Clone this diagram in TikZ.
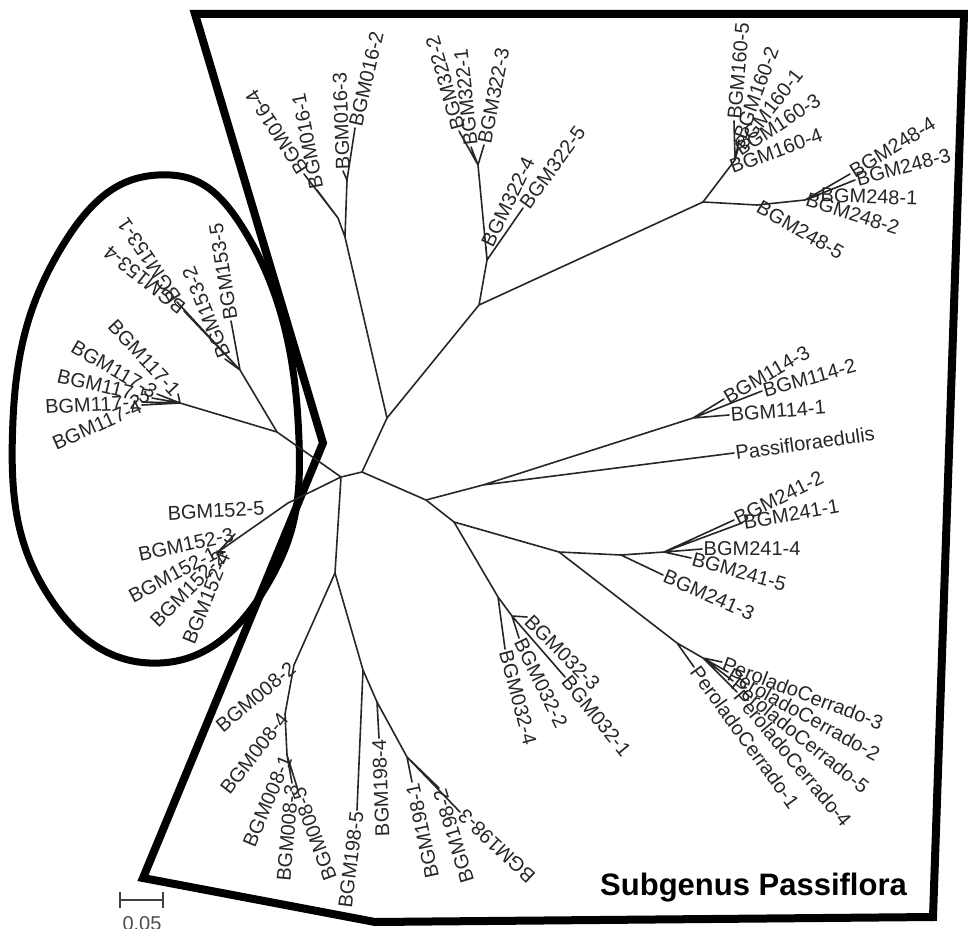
\documentclass[tikz,border=0pt]{standalone}
\usepackage{fontspec}
\setmainfont{Liberation Sans}
\tikzset{br/.style={line width=1.6pt,black!85,line cap=round,line join=round},
  frame/.style={line width=8pt,line join=miter},
  lbl/.style={font=\fontsize{20}{20}\selectfont,text=black!85,inner sep=1.5pt}}
\newcommand\leafR[4]{\coordinate (t#1) at (#2); \node[lbl,anchor=west,rotate=#3] (l#1) at (t#1) {#4};}
\newcommand\leafL[4]{\coordinate (t#1) at (#2); \node[lbl,anchor=east,rotate=#3] (l#1) at (t#1) {#4};}
\begin{document}
\begin{tikzpicture}[x=1pt,y=-1pt]
\useasboundingbox (0,0) rectangle (968,928);
\draw[frame] (195,14)--(964,14)--(933,917)--(375,922)--(143,878)--(323,443)--cycle;
\draw[line width=7pt] plot[smooth cycle,tension=.75] coordinates {(158,175) (250,240) (298,420) (270,580) (160,663) (45,590) (13,420) (60,250)};
\coordinate (A) at (362,472); \coordinate (B) at (341,477); \coordinate (C) at (277,432); \coordinate (C2) at (180,403);
\coordinate (D) at (387,418); \coordinate (E) at (479,305); \coordinate (F) at (426,500); \coordinate (G) at (454,522);
\coordinate (H) at (483,485); \coordinate (I) at (559,552); \coordinate (J) at (621,555); \coordinate (K) at (664,552);
\coordinate (L) at (498,597); \coordinate (L2) at (512,616); \coordinate (M1) at (693,418); \coordinate (N) at (677,643);
\coordinate (O) at (703,658); \coordinate (P) at (335,573); \coordinate (Q) at (363,670); \coordinate (R) at (377,702);
\coordinate (S) at (407,757); \coordinate (T) at (345,237); \coordinate (T2) at (347,180); \coordinate (T3) at (338,218);
\coordinate (U) at (487,260); \coordinate (V) at (478,165); \coordinate (W) at (703,202); \coordinate (X) at (735,160);
\coordinate (Y) at (805,200); \coordinate (K152) at (288,503); \coordinate (Q1) at (218,552); \coordinate (K153) at (240,370);
\leafR{0162}{355,128}{77}{BGM016-2} \leafR{0163}{343,171}{92}{BGM016-3}
\leafR{0161}{317,190}{101}{BGM016-1} \leafR{0164}{304,174}{123}{BGM016-4}
\leafR{3222}{459,131}{106}{BGM322-2} \leafR{3221}{471,147}{96}{BGM322-1} \leafR{3223}{484,145}{79}{BGM322-3}
\leafR{3224}{486,247}{64}{BGM322-4} \leafR{3225}{523,208}{54}{BGM322-5}
\leafR{1605}{734,121}{85}{BGM160-5} \leafR{1602}{739,140}{70}{BGM160-2} \leafR{1601}{738,149}{52}{BGM160-1}
\leafR{1603}{736,152}{33}{BGM160-3} \leafR{1604}{729,168}{20}{BGM160-4}
\leafR{2485}{757,205}{-30}{BGM248-5} \leafR{2482}{805,198}{-18}{BGM248-2} \leafR{2481}{819,195}{-2}{BGM248-1}
\leafR{2483}{855,180}{15}{BGM248-3} \leafR{2484}{850,174}{32}{BGM248-4}
\leafR{1143}{724,399}{30}{BGM114-3} \leafR{1142}{762,391}{15.5}{BGM114-2} \leafR{1141}{729,415}{4.7}{BGM114-1}
\leafR{Ped}{734,453}{7.9}{Passifloraedulis}
\leafR{2412}{734,520}{26.6}{BGM241-2} \leafR{2411}{742,523}{10}{BGM241-1} \leafR{2414}{702,549}{0}{BGM241-4}
\leafR{2415}{691,558}{-15.7}{BGM241-5} \leafR{2413}{663,575}{-23.5}{BGM241-3}
\leafR{PC3}{722,662}{-21}{PeroladoCerrado-3} \leafR{PC2}{728,672}{-29}{PeroladoCerrado-2}
\leafR{PC5}{733,681}{-39}{PeroladoCerrado-5} \leafR{PC4}{737,692}{-50}{PeroladoCerrado-4}
\leafR{PC1}{694,667}{-54}{PeroladoCerrado-1}
\leafR{0323}{527,617}{-45}{BGM032-3} \leafR{0322}{519,638}{-64}{BGM032-2}
\leafR{0324}{505,649}{-75}{BGM032-4} \leafR{0321}{565,677}{-51}{BGM032-1}
\leafL{1985}{357,810}{83}{BGM198-5} \leafL{1984}{379,738}{92}{BGM198-4} \leafL{1981}{412,782}{102}{BGM198-1}
\leafL{1982}{439,788}{107}{BGM198-2} \leafL{1983}{460,812}{137}{BGM198-3}
\leafL{0082}{294,665}{40}{BGM008-2} \leafL{0084}{285,714}{52}{BGM008-4} \leafL{0081}{287,755}{67}{BGM008-1}
\leafL{0083}{292,783}{85}{BGM008-3} \leafL{0085}{297,787}{110}{BGM008-5}
\leafL{1525}{266,508}{3}{BGM152-5} \leafL{1523}{235,534}{12}{BGM152-3} \leafL{1521}{217,551}{28}{BGM152-1}
\leafL{1522}{223,554}{45}{BGM152-2} \leafL{1524}{225,552}{68}{BGM152-4}
\leafL{1171}{178,394}{-47}{BGM117-1} \leafL{1173}{157,394}{-30}{BGM117-3} \leafL{1175}{152,398}{-13.5}{BGM117-5}
\leafL{1172}{142,402}{3}{BGM117-2} \leafL{1174}{142,405}{24}{BGM117-4}
\leafR{1535}{231,321}{99}{BGM153-5} \leafR{1532}{225,359}{112}{BGM153-2}
\leafR{1534}{184,311}{142}{BGM153-4} \leafR{1531}{177,302}{124}{BGM153-1}
\draw[br] (B)--(A) (A)--(D) (A)--(F) (D)--(T) (D)--(E) (E)--(U) (E)--(W);
\draw[br] (T)--(T2)--(t0162) (T2)--(t0163) (T)--(T3)--(t0161) (T3)--(t0164);
\draw[br] (U)--(t3225) (U)--(t3224) (U)--(V)--(t3223) (V)--(t3221) (V)--(t3222);
\draw[br] (W)--(X)--(t1605) (X)--(t1602) (X)--(t1601) (X)--(t1603);
\draw[br] (W)--(t2485)--(Y)--(t2481) (Y)--(t2483) (Y)--(t2484);
\draw[br] (F)--(H)--(M1)--(t1141) (M1)--(t1142) (M1)--(t1143) (H)--(tPed);
\draw[br] (F)--(G)--(I)--(J)--(K)--(t2412) (K)--(t2411) (K)--(t2414) (K)--(t2415) (J)--(t2413);
\draw[br] (I)--(N)--(tPC1) (N)--(O)--(tPC3) (O)--(tPC2) (O)--(tPC5) (O)--(tPC4);
\draw[br] (G)--(L)--(t0324) (L)--(L2)--(t0322) (L2)--(t0323) (L2)--(t0321);
\draw[br] (B)--(P)--(Q)--(t1985) (Q)--(R)--(t1984) (R)--(S)--(t1981) (S)--(t1982) (S)--(t1983);
\draw[br] (P)--(t0082)--(t0084)--(t0081)--(t0083) (t0081)--(t0085);
\draw[br] (B)--(K152)--(Q1)--(t1523) (Q1)--(t1521) (Q1)--(t1522) (Q1)--(t1524);
\draw[br] (B)--(C)--(C2)--(t1171) (C2)--(t1173) (C2)--(t1175) (C2)--(t1172) (C2)--(t1174);
\draw[br] (C)--(K153)--(t1535) (K153)--(t1532) (K153)--(t1534) (K153)--(t1531);
\coordinate (sb1) at (120,900); \coordinate (sb2) at (163,900);
\draw[line width=2pt,black!75] (sb1)--(sb2) ([yshift=-8pt]sb1)--([yshift=8pt]sb1) ([yshift=-8pt]sb2)--([yshift=8pt]sb2);
\node[font=\fontsize{20}{20}\selectfont,text=black!70,anchor=north,inner sep=0] (scl) at (142,916) {0.05};
\node[font=\fontsize{31}{31}\selectfont\bfseries,anchor=base west,inner sep=0] (sub) at (600,895) {Subgenus Passiflora};
\end{tikzpicture}
\end{document}
